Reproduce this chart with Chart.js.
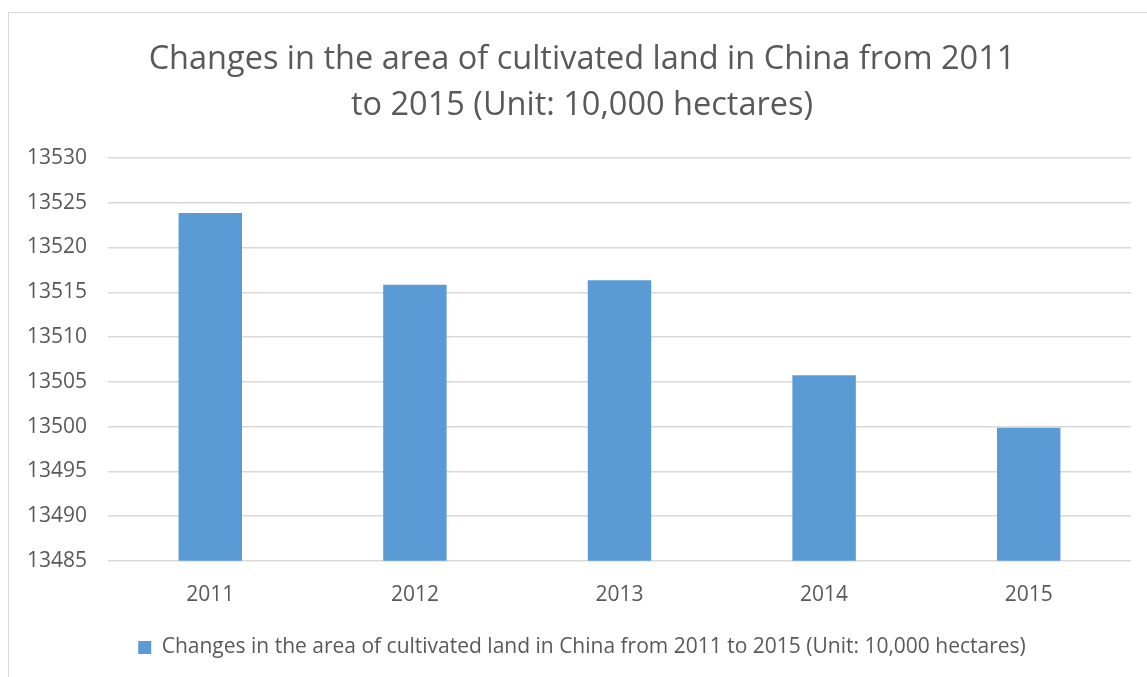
<!DOCTYPE html>
<html>
<head>
<meta charset="utf-8">
<script src="https://cdn.jsdelivr.net/npm/chart.js@4"></script>
<style>
    html, body { margin: 0; padding: 0; background: #ffffff; overflow: hidden; }
    #box {
        position: absolute;
        left: 8px;
        top: 12px;
        width: 1148px;
        height: 690px;
        border: 1px solid #d9d9d9;
        box-sizing: border-box;
    }
    #landChart { display: block; }
</style>
</head>
<body>
<div id="box"><canvas id="landChart" width="1146" height="688"></canvas></div>
<script>
const years = ["2011", "2012", "2013", "2014", "2015"];
const landArea = [13523.86, 13515.85, 13516.34, 13505.73, 13499.87];
const yMin = 13485;
const yMax = 13530;
const yStep = 5;

const seriesName = "Changes in the area of cultivated land in China from 2011 to 2015 (Unit: 10,000 hectares)";
const titleLines = ["Changes in the area of cultivated land in China from 2011", "to 2015 (Unit: 10,000 hectares)"];

const textColor = "#595959";
const fontFamily = "'Open Sans', 'Noto Sans', sans-serif";

const ctx = document.getElementById("landChart").getContext("2d");

new Chart(ctx, {
    type: "bar",
    data: {
        labels: years,
        datasets: [
            {
                label: seriesName,
                data: landArea,
                backgroundColor: "#5b9bd5",
                borderWidth: 0,
                categoryPercentage: 1.0,
                barPercentage: 0.31
            }
        ]
    },
    options: {
        responsive: false,
        animation: false,
        layout: { padding: { left: 0, right: 0, top: 10, bottom: 33 } },
        plugins: {
            title: {
                display: true,
                text: titleLines,
                color: textColor,
                font: { family: fontFamily, size: 32.5, weight: "normal", lineHeight: 1.4 },
                padding: { top: 14, bottom: 30 }
            },
            legend: {
                position: "bottom",
                labels: {
                    color: textColor,
                    font: { family: fontFamily, size: 21 },
                    boxWidth: 13,
                    boxHeight: 13,
                    padding: 7
                }
            },
            tooltip: { enabled: false }
        },
        scales: {
            x: {
                grid: { display: false, drawTicks: false },
                border: { display: false },
                ticks: {
                    color: textColor,
                    font: { family: fontFamily, size: 21 },
                    padding: 22
                }
            },
            y: {
                min: yMin,
                max: yMax,
                grid: { color: "#d9d9d9", lineWidth: 1.5, drawTicks: false },
                border: { display: false },
                afterFit: scale => { scale.width = 99; },
                ticks: {
                    stepSize: yStep,
                    color: textColor,
                    font: { family: fontFamily, size: 21 },
                    padding: 21,
                    callback: v => String(v)
                }
            },
            // empty axis on the right, only there to leave a gap after the plot
            yRight: {
                type: "linear",
                position: "right",
                min: yMin,
                max: yMax,
                grid: { display: false, drawTicks: false },
                border: { display: false },
                ticks: { display: false },
                afterFit: scale => { scale.width = 24; }
            }
        }
    }
});
</script>
</body>
</html>
